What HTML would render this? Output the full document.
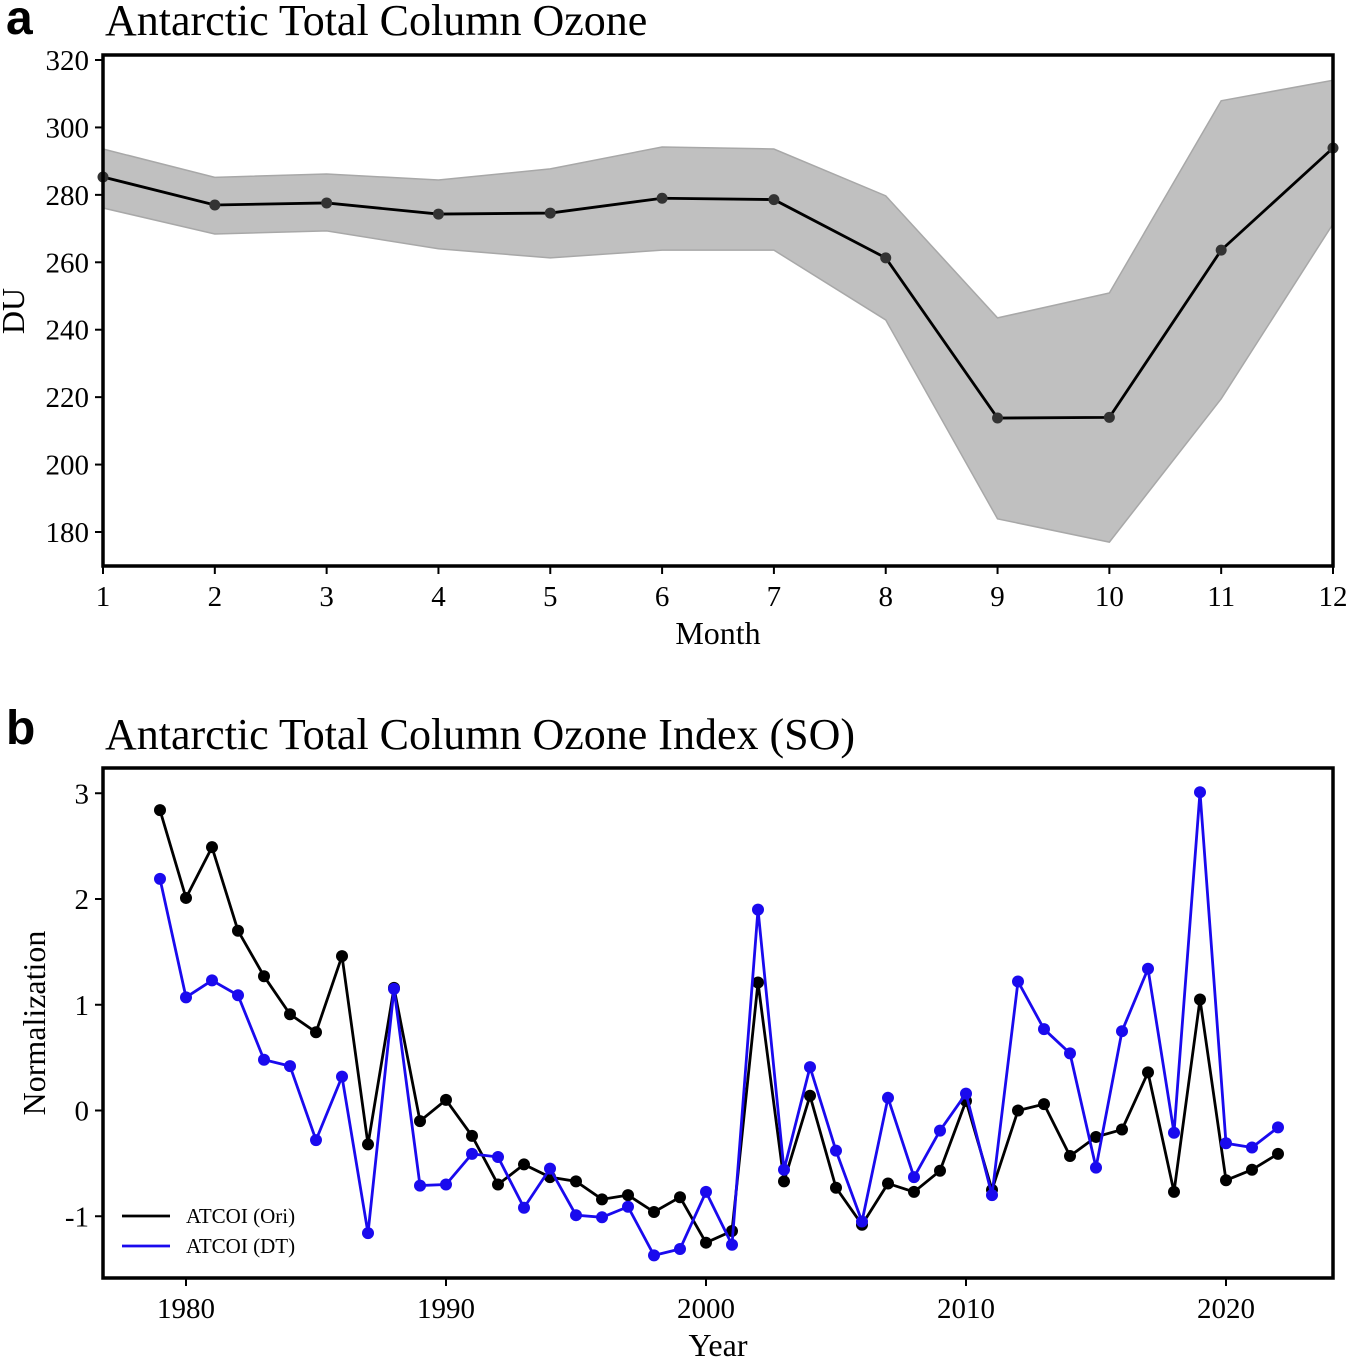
<!DOCTYPE html>
<html><head><meta charset="utf-8">
<style>
html,body{margin:0;padding:0;background:#fff;}
svg{display:block;font-family:"Liberation Serif",serif;}
.lbl{font-family:"Liberation Sans","DejaVu Sans",sans-serif;font-weight:bold;}
</style></head>
<body>
<svg id="chart" width="1350" height="1359" viewBox="0 0 1350 1359" xmlns="http://www.w3.org/2000/svg">
<text class="lbl" x="6" y="34" font-size="48">a</text>
<text x="105" y="35" font-size="44">Antarctic Total Column Ozone</text>
<text class="lbl" x="6" y="744" font-size="48">b</text>
<text x="105" y="749" font-size="44">Antarctic Total Column Ozone Index (SO)</text>
<g id="pa"></g>
<g id="pb"></g>
</svg>
<script>
// Panel a data
const months = [1,2,3,4,5,6,7,8,9,10,11,12];
const meanDU = [285.3,277,277.6,274.3,274.6,279,278.6,261.3,213.8,214,263.6,293.9];
const upperDU = [293.6,285.2,286.2,284.4,287.7,294.2,293.6,279.7,243.5,250.9,307.9,314];
const lowerDU = [276.1,268.4,269.3,264,261.3,263.6,263.6,242.9,183.9,177,219.5,271.4];
const yTicksA = [180,200,220,240,260,280,300,320];
// Panel b data
const years = [];
for (let y=1979;y<=2022;y++) years.push(y);
const ori = [2.84,2.01,2.49,1.70,1.27,0.91,0.74,1.46,-0.32,1.16,-0.10,0.10,-0.24,-0.70,-0.51,-0.63,-0.67,-0.84,-0.80,-0.96,-0.82,-1.25,-1.14,1.21,-0.67,0.14,-0.73,-1.08,-0.69,-0.77,-0.57,0.09,-0.75,0.00,0.06,-0.43,-0.25,-0.18,0.36,-0.77,1.05,-0.66,-0.56,-0.41];
const dt = [2.19,1.07,1.23,1.09,0.48,0.42,-0.28,0.32,-1.16,1.15,-0.71,-0.70,-0.41,-0.44,-0.92,-0.55,-0.99,-1.01,-0.91,-1.37,-1.31,-0.77,-1.27,1.90,-0.56,0.41,-0.38,-1.05,0.12,-0.63,-0.19,0.16,-0.80,1.22,0.77,0.54,-0.54,0.75,1.34,-0.21,3.01,-0.31,-0.35,-0.16];
const xTicksB = [1980,1990,2000,2010,2020];
const yTicksB = [-1,0,1,2,3];
const yTickLabelsB = ["-1","0","1","2","3"];

const NS="http://www.w3.org/2000/svg";
function mk(tag,attrs,parent,text){const e=document.createElementNS(NS,tag);for(const k in attrs)e.setAttribute(k,attrs[k]);if(text!==undefined)e.textContent=text;parent.appendChild(e);return e;}

// Panel A
const pa=document.getElementById('pa');
const ax={l:103,r:1333,t:55,b:566};
const xA=m=>ax.l+(m-1)*(ax.r-ax.l)/11;
const yA=v=>532-(v-180)*472/140;
let d='';
months.forEach((m,i)=>{d+=(i?'L':'M')+xA(m)+','+yA(upperDU[i]);});
for(let i=months.length-1;i>=0;i--)d+='L'+xA(months[i])+','+yA(lowerDU[i]);
const band=mk('path',{d:d+'Z',fill:'#c0c0c0',stroke:'#a8a8a8','stroke-width':1.5},pa);


const ml=mk('polyline',{points:months.map((m,i)=>xA(m)+','+yA(meanDU[i])).join(' '),fill:'none',stroke:'#000','stroke-width':2.8},pa);


months.forEach((m,i)=>{const c=mk('circle',{cx:xA(m),cy:yA(meanDU[i]),r:5.5,fill:'#333'},pa);

});
const fa=mk('rect',{x:ax.l,y:ax.t,width:ax.r-ax.l,height:ax.b-ax.t,fill:'none',stroke:'#000','stroke-width':3.5},pa);


yTicksA.forEach(v=>{mk('line',{x1:ax.l-8,x2:ax.l,y1:yA(v),y2:yA(v),stroke:'#000','stroke-width':2},pa);
const t=mk('text',{x:ax.l-14,y:yA(v)+10,'font-size':29,'text-anchor':'end'},pa,v);

});
months.forEach(m=>{mk('line',{x1:xA(m),x2:xA(m),y1:ax.b,y2:ax.b+8,stroke:'#000','stroke-width':2},pa);
const t=mk('text',{x:xA(m),y:606,'font-size':29,'text-anchor':'middle'},pa,m);

});
const xta=mk('text',{x:718,y:644,'font-size':32,'text-anchor':'middle'},pa,'Month');


const yta=mk('text',{x:0,y:0,'font-size':32,'text-anchor':'middle',transform:'translate(24,311) rotate(-90)'},pa,'DU');



// Panel B
const pb=document.getElementById('pb');
const bx={l:103,r:1333,t:768,b:1278};
const xB=y=>186+(y-1980)*26;
const yB=v=>1110.5-v*105.75;
function series(vals,color,name){
  const p=mk('polyline',{points:years.map((y,i)=>xB(y)+','+yB(vals[i])).join(' '),fill:'none',stroke:color,'stroke-width':2.8},pb);
  
  
  years.forEach((y,i)=>{const c=mk('circle',{cx:xB(y),cy:yB(vals[i]),r:6,fill:color},pb);
  
  });
}
series(ori,'#000','ori');
series(dt,'#1a0aee','dt');
const fb=mk('rect',{x:bx.l,y:bx.t,width:bx.r-bx.l,height:bx.b-bx.t,fill:'none',stroke:'#000','stroke-width':3.5},pb);


yTicksB.forEach((v,i)=>{mk('line',{x1:bx.l-8,x2:bx.l,y1:yB(v),y2:yB(v),stroke:'#000','stroke-width':2},pb);
const t=mk('text',{x:bx.l-14,y:yB(v)+10,'font-size':29,'text-anchor':'end'},pb,yTickLabelsB[i]);

});
xTicksB.forEach(y=>{mk('line',{x1:xB(y),x2:xB(y),y1:bx.b,y2:bx.b+8,stroke:'#000','stroke-width':2},pb);
const t=mk('text',{x:xB(y),y:1318,'font-size':29,'text-anchor':'middle'},pb,y);

});
const xtb=mk('text',{x:718,y:1356,'font-size':32,'text-anchor':'middle'},pb,'Year');


const ytb=mk('text',{x:0,y:0,'font-size':32,'text-anchor':'middle',transform:'translate(45,1023) rotate(-90)'},pb,'Normalization');


const lg=mk('g',{},pb);


[['ATCOI (Ori)','#000',1216],['ATCOI (DT)','#1a0aee',1246]].forEach(([n,c,y])=>{
  mk('line',{x1:122,x2:170,y1:y,y2:y,stroke:c,'stroke-width':2.8},lg);
  const t=mk('text',{x:186,y:y+7,'font-size':21},lg,n);
  
  
});
</script>
</body></html>
